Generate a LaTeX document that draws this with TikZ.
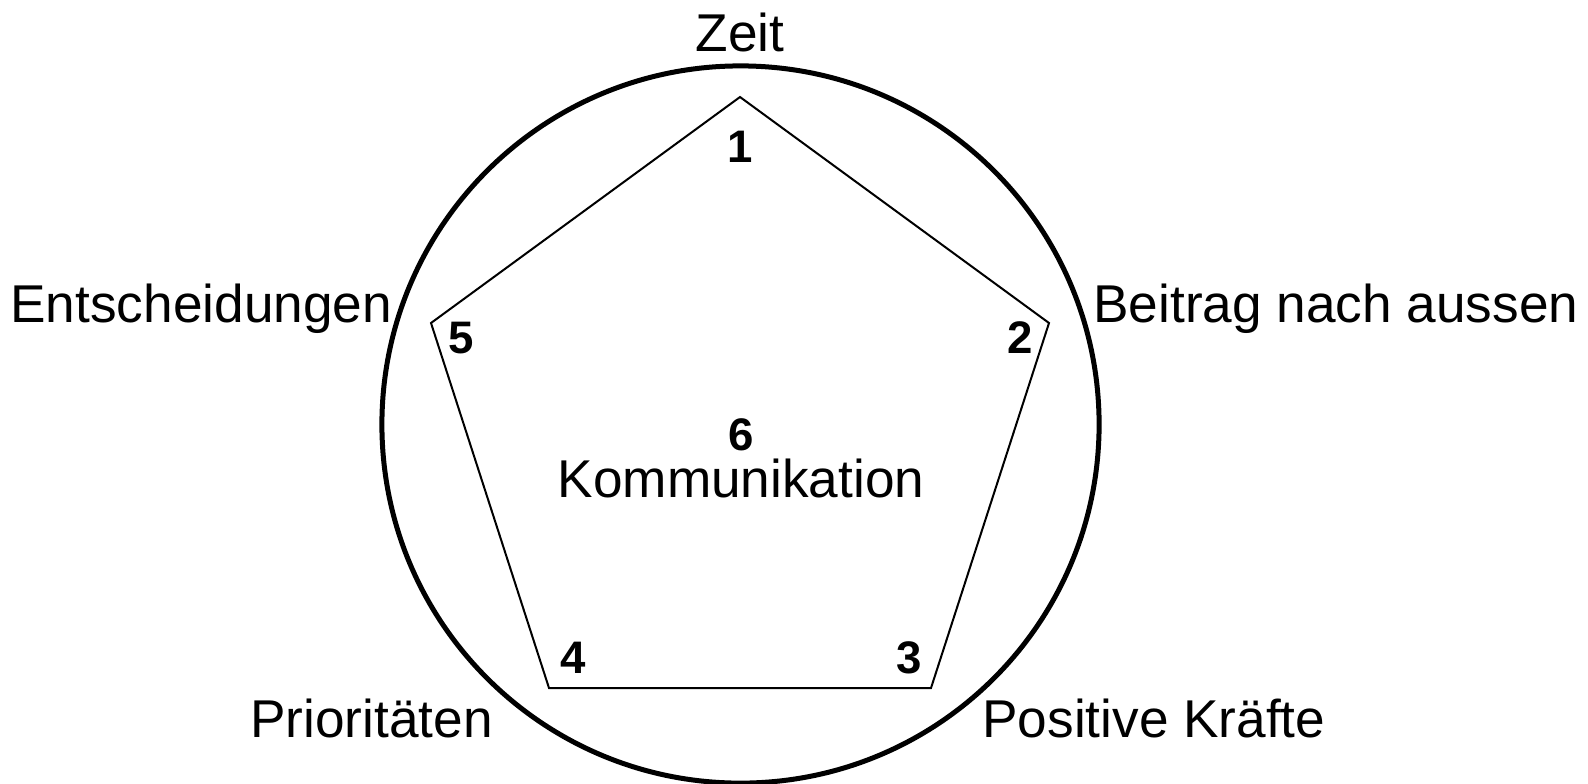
\documentclass[tikz,border=0pt]{standalone}
\usepackage{fontspec}
\setmainfont{Liberation Sans}
\begin{document}
\begin{tikzpicture}[x=0.5pt,y=-0.5pt,
  lbl/.style={inner sep=0pt,font=\fontsize{26.6}{30}\selectfont},
  num/.style={inner sep=0pt,anchor=base,font=\fontsize{22.8}{26}\selectfont\bfseries},
  ring/.style={line width=2.5pt},
  penta/.style={line width=1pt,line join=miter}]
\useasboundingbox (0,0) rectangle (1588,783);
\coordinate (c) at (740.5,424.5);
\coordinate (v1) at (740,97);
\coordinate (v2) at (1049,323);
\coordinate (v3) at (931,688);
\coordinate (v4) at (549,688);
\coordinate (v5) at (431,323);
\draw[ring] (c) circle[radius=179.3pt];
\draw[penta] (v1) -- (v2) -- (v3) -- (v4) -- (v5) -- cycle;
\node[num] (n1) at (740,162) {1};
\node[num] (n2) at (1020,353) {2};
\node[num] (n3) at (909,673) {3};
\node[num] (n4) at (573,673) {4};
\node[num] (n5) at (461,353) {5};
\node[num] (n6) at (741,450) {6};
\node[lbl,anchor=base] (komm) at (741,497) {Kommunikation};
\node[lbl,anchor=base] (zeit) at (740,51) {Zeit};
\node[lbl,anchor=base west] (beitrag) at (1093,322) {Beitrag nach aussen};
\node[lbl,anchor=base west] (pos) at (982,737) {Positive Kräfte};
\node[lbl,anchor=base west] (prio) at (250,737) {Prioritäten};
\node[lbl,anchor=base west] (ent) at (10,322) {Entscheidungen};
\end{tikzpicture}
\end{document}
